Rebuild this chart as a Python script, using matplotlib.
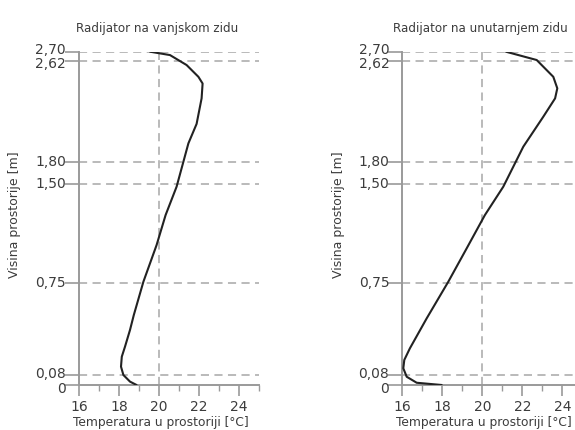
import numpy as np
import matplotlib
matplotlib.use("Agg")
import matplotlib.pyplot as plt
from matplotlib.ticker import FixedLocator, MultipleLocator, NullFormatter
from matplotlib.transforms import ScaledTranslation, blended_transform_factory

# visina prostorije -> polozaj na crtezu (os nije linearna u originalu)
H_KNOTS = [-1.0, 0.0, 0.08, 0.75, 1.50, 1.80, 2.62, 2.70, 4.0]
P_KNOTS = [-125.0, 0.0, 10.0, 101.7, 200.7, 222.7, 324.3, 333.3, 480.0]

Y_TICKS = [0, 0.08, 0.75, 1.50, 1.80, 2.62, 2.70]
Y_LABELS = ["0", "0,08", "0,75", "1,50", "1,80", "2,62", "2,70"]
Y_SHIFT = [-4, 1, 0, 0, 0, -3.5, 2]   # pomak natpisa (px) da se ne preklapaju
X_TICKS = [16, 18, 20, 22, 24]

# radijator na vanjskom zidu
t_vanjski = [19.55, 20.55, 21.38, 21.97, 22.18, 22.13, 21.88, 21.47, 20.88,
             20.33, 19.88, 19.22, 18.74, 18.55, 18.30, 18.14, 18.10, 18.22,
             18.55, 18.88]
h_vanjski = [2.70, 2.67, 2.585, 2.49, 2.436, 2.316, 2.11, 1.953, 1.482,
             1.267, 1.04, 0.762, 0.518, 0.409, 0.287, 0.214, 0.141, 0.08,
             0.027, 0.0]

# radijator na unutarnjem zidu
t_unutarnji = [21.18, 22.72, 23.55, 23.75, 23.64, 23.05, 22.05, 21.05, 20.13,
               19.22, 18.30, 17.22, 16.38, 16.10, 16.05, 16.22, 16.72, 17.97]
h_unutarnji = [2.70, 2.626, 2.49, 2.397, 2.316, 2.168, 1.926, 1.482, 1.267,
               1.015, 0.762, 0.494, 0.275, 0.19, 0.129, 0.066, 0.018, 0.0]


def fwd(h):
    return np.interp(h, H_KNOTS, P_KNOTS)


def inv(p):
    return np.interp(p, P_KNOTS, H_KNOTS)


GRAY = "#9a9a9a"
TXT = "#3c3c3c"
DASH = (0, (4.5, 3))

fig = plt.figure(figsize=(5.75, 4.3), dpi=100)

W = 180 / 575
H = 333.3 / 430
B = 45 / 430
panels = [
    (79 / 575, t_vanjski, h_vanjski, "Radijator na vanjskom zidu"),
    (402.3 / 575, t_unutarnji, h_unutarnji, "Radijator na unutarnjem zidu"),
]

for left, t, h, title in panels:
    ax = fig.add_axes([left, B, W, H])
    ax.set_yscale("function", functions=(fwd, inv))
    ax.set_xlim(16, 25)
    ax.set_ylim(0, 2.70)

    # mreza
    for yv in Y_TICKS[1:]:
        ax.axhline(yv, color="#b4b4b4", lw=1.3, ls=DASH, zorder=1)
    ax.axvline(20, color="#b4b4b4", lw=1.3, ls=DASH, zorder=1)

    ax.plot(t, h, color="#222222", lw=1.5, zorder=3, solid_capstyle="round")

    for s in ["top", "right"]:
        ax.spines[s].set_visible(False)
    for s in ["left", "bottom"]:
        ax.spines[s].set_color(GRAY)
        ax.spines[s].set_linewidth(1.4)

    ax.yaxis.set_major_locator(FixedLocator(Y_TICKS))
    ax.yaxis.set_major_formatter(NullFormatter())
    ax.yaxis.set_minor_locator(FixedLocator([]))
    ax.yaxis.set_minor_formatter(NullFormatter())
    ax.xaxis.set_major_locator(FixedLocator(X_TICKS))
    ax.xaxis.set_minor_locator(MultipleLocator(1))
    ax.tick_params(axis="y", length=10, width=1.2, color=GRAY)
    ax.tick_params(axis="x", which="major", length=8, width=1.2, color=GRAY,
                   pad=3, labelsize=10, labelcolor=TXT)
    ax.tick_params(axis="x", which="minor", length=4, width=1.0, color=GRAY)

    ytr = ax.get_yaxis_transform()
    for yv, lab, dy in zip(Y_TICKS, Y_LABELS, Y_SHIFT):
        off = ScaledTranslation(-13 / 100, dy / 100, fig.dpi_scale_trans)
        ax.text(0, yv, lab, transform=ytr + off, ha="right", va="center",
                fontsize=10, color=TXT)

    ax.text(19.9, 1.05, title, transform=ax.get_xaxis_transform(),
            ha="center", va="bottom", fontsize=8.6, color=TXT)
    xl_tr = blended_transform_factory(ax.transData, fig.transFigure)
    ax.text(20.1, 1 / 430, "Temperatura u prostoriji [°C]",
            transform=xl_tr, ha="center", va="bottom", fontsize=8.8,
            color=TXT)
    ax.text(-64 / 180, 0.51, "Visina prostorije [m]", transform=ax.transAxes,
            ha="center", va="center", rotation=90, fontsize=9, color=TXT)

fig.savefig("out.png", dpi=100)
